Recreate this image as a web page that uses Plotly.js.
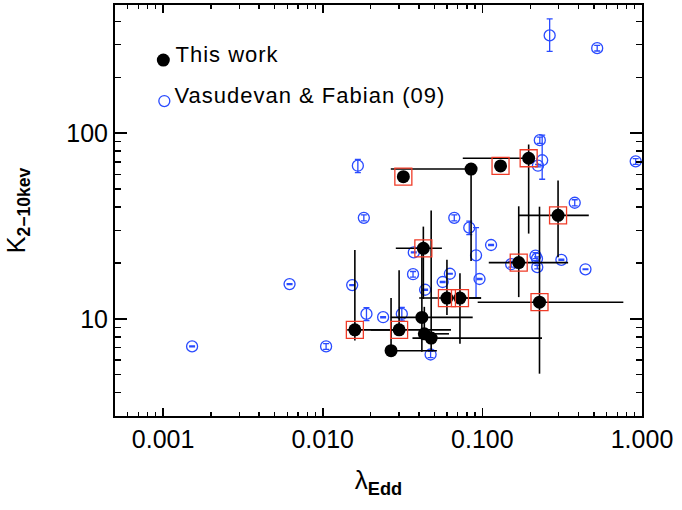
<!DOCTYPE html>
<html>
<head>
<meta charset="utf-8">
<script src="https://cdn.plot.ly/plotly-3.0.1.min.js"></script>
<style>
  html, body { margin: 0; padding: 0; background: #fff; }
  #chart { width: 682px; height: 510px; }
  /* slightly airy lettering for the key text */
  #chart .annotation-text { letter-spacing: 1px; }
</style>
</head>
<body>
<div id="chart"></div>
<script>
// ---- This work: Eddington ratio vs 2-10 keV bolometric correction ----
const twLambda   = [0.032, 0.085, 0.130, 0.195, 0.298, 0.169, 0.228, 0.0427, 0.0159, 0.0301, 0.0268, 0.0418, 0.0433, 0.0478, 0.0600, 0.0724];
const twK        = [58.3,  64.1,  66.6,  73.3,  36.1,  20.1,  12.3,  24.0,   8.73,   8.73,   6.74,   10.19,  8.31,   7.88,   12.95,  12.95];
const twLamMinus = [0,     0.0583, 0,    0.1196, 0.1286, 0.0593, 0.1345, 0.0140, 0.00166, 0.0101, 0,     0.0151, 0.0020, 0.0113, 0.0198, 0.0050];
const twLamPlus  = [0,     0,     0,     0.005,  0.1662, 0.1755, 0.536,  0.0131, 0.0149, 0.0335, 0.0251, 0.0452, 0.0185, 0.1886, 0.0382, 0.0258];
const twKMinus   = [0,     43.6,  0,     44.5,   14.6,   7.0,    7.23,   11.2,   1.08,   0,      0,      3.53,   0.2,    1.12,   2.45,   5.6];
const twKPlus    = [0,     0,     0,     13.6,   19.6,   20.3,   27.9,   7.4,    14.8,   9.57,   6.21,   14.3,   3.3,    30.5,   7.85,   4.65];
// sources flagged with a red box
const boxed      = [true,  false, true,  true,   true,   true,   true,   true,   true,   true,   false,  false,  false,  false,  true,   true];

// ---- Vasudevan & Fabian (2009) ----
const vfLambda = [0.00152, 0.0062, 0.0105, 0.0153, 0.0188, 0.0239, 0.0313, 0.264, 0.524, 0.0166, 0.229, 0.237, 0.223, 0.913, 0.379,
                  0.0181, 0.0667, 0.0828, 0.0913, 0.0960, 0.1134, 0.0372, 0.0368, 0.0438, 0.0564, 0.0626, 0.0474, 0.1515,
                  0.2152, 0.2199, 0.2208, 0.3126, 0.4425];
const vfK      = [7.11, 15.4, 7.11, 15.2, 10.64, 10.21, 10.64, 336, 287, 66.8, 91.7, 71.5, 66.8, 70.5, 42.2,
                  35.0, 35.0, 31.0, 22.0, 16.4, 25.0, 22.8, 17.4, 14.35, 15.8, 17.5, 6.43, 19.7,
                  21.9, 21.1, 19.0, 20.8, 18.5];
const vfKPlus  = [0.05, 0.1, 0.25, 0.1, 0.85, 0.07, 0.9, 77, 10, 5.5, 3.5, 26, 1.0, 2.5, 1.6,
                  1.3, 1.3, 2.6, 9.0, 0.1, 0.15, 0.15, 0.6, 0.1, 0.1, 0.1, 0.25, 0.7,
                  0.8, 0.5, 0.4, 0.15, 0.1];
const vfKMinus = [0.05, 0.1, 0.25, 0.1, 0.85, 0.07, 0.9, 60, 10, 5.5, 3.5, 15, 1.0, 2.5, 1.6,
                  1.3, 1.3, 2.6, 9.0, 0.1, 0.15, 0.15, 0.6, 0.1, 0.1, 0.1, 0.25, 0.7,
                  0.8, 0.5, 0.4, 0.15, 0.1];

// axis tick labels
const xTickVals  = [0.001, 0.01, 0.1, 1];
const xTickText  = ['0.001', '0.010', '0.100', '1.000'];
const yTickVals  = [10, 100];
const yTickText  = ['10', '100'];

const BLUE = '#2a4bff';
const RED  = '#f03c28';
const FONT = '"Liberation Sans", Arial, Helvetica, sans-serif';

// minor ticks at 2..9 of every decade in view
function minorTicks(lo, hi) {
  const out = [];
  for (let e = lo; e < hi; e++) {
    for (let m = 2; m <= 9; m++) out.push(m * Math.pow(10, e));
  }
  return out;
}

const boxLam = twLambda.filter((_, i) => boxed[i]);
const boxK   = twK.filter((_, i) => boxed[i]);

const traces = [
  {
    x: vfLambda, y: vfK, type: 'scatter', mode: 'markers',
    marker: { symbol: 'circle-open', size: 11, color: BLUE, line: { width: 1.3, color: BLUE } },
    error_y: { type: 'data', symmetric: false, array: vfKPlus, arrayminus: vfKMinus,
               color: BLUE, thickness: 1.3, width: 3 },
    hoverinfo: 'skip'
  },
  {
    x: twLambda, y: twK, type: 'scatter', mode: 'markers',
    marker: { symbol: 'circle', size: 13, color: '#000' },
    error_x: { type: 'data', symmetric: false, array: twLamPlus, arrayminus: twLamMinus,
               color: '#000', thickness: 1.6, width: 0 },
    error_y: { type: 'data', symmetric: false, array: twKPlus, arrayminus: twKMinus,
               color: '#000', thickness: 1.6, width: 0 },
    hoverinfo: 'skip'
  },
  {
    x: boxLam, y: boxK, type: 'scatter', mode: 'markers',
    marker: { symbol: 'square-open', size: 17, color: RED, line: { width: 1.3, color: RED } },
    hoverinfo: 'skip'
  }
];

const axisCommon = {
  type: 'log', showgrid: false, zeroline: false,
  showline: true, linecolor: '#000', linewidth: 2, mirror: 'ticks',
  ticks: 'inside', tickcolor: '#000', tickwidth: 1.6,
  tickmode: 'array',
  tickfont: { family: FONT, size: 25, color: '#000' }
};

const layout = {
  width: 682, height: 510,
  margin: { l: 115, r: 40, t: 5, b: 94 },
  paper_bgcolor: '#fff', plot_bgcolor: '#fff',
  showlegend: false,
  font: { family: FONT, color: '#000' },
  xaxis: Object.assign({}, axisCommon, {
    range: [Math.log10(0.0005), 0],
    tickvals: xTickVals, ticktext: xTickText, ticklen: 8,
    minor: { tickmode: 'array', tickvals: minorTicks(-4, 0).filter(v => v > 0.0005),
             ticks: 'inside', ticklen: 4, tickcolor: '#000', tickwidth: 1.4, showgrid: false },
    title: { text: 'λ<sub><b>Edd</b></sub>', font: { family: FONT, size: 26, color: '#000' }, standoff: 19 }
  }),
  yaxis: Object.assign({}, axisCommon, {
    range: [Math.log10(3), Math.log10(490)],
    tickvals: yTickVals, ticktext: yTickText, ticklen: 12,
    minor: { tickmode: 'array', tickvals: minorTicks(0, 3).filter(v => v > 3 && v < 490),
             ticks: 'inside', ticklen: 6, tickcolor: '#000', tickwidth: 1.4, showgrid: false },
    title: { text: 'K<sub><b>2−10kev</b></sub>', font: { family: FONT, size: 25, color: '#000' }, standoff: 34 }
  }),
  shapes: [
    // key symbols
    { type: 'circle', xref: 'paper', yref: 'paper', xsizemode: 'pixel', ysizemode: 'pixel',
      xanchor: 0.0917, yanchor: 0.8661, x0: -6.5, x1: 6.5, y0: -6.5, y1: 6.5,
      fillcolor: '#000', line: { color: '#000', width: 0 } },
    { type: 'circle', xref: 'paper', yref: 'paper', xsizemode: 'pixel', ysizemode: 'pixel',
      xanchor: 0.0936, yanchor: 0.7663, x0: -5.5, x1: 5.5, y0: -5.5, y1: 5.5,
      fillcolor: 'rgba(0,0,0,0)', line: { color: BLUE, width: 1.3 } }
  ],
  annotations: [
    { xref: 'paper', yref: 'paper', x: 0.1186, y: 0.879, xanchor: 'left', yanchor: 'middle',
      text: 'This work', showarrow: false, font: { family: FONT, size: 22, color: '#000' } },
    { xref: 'paper', yref: 'paper', x: 0.1310, y: 0.779, xanchor: 'left', yanchor: 'middle',
      text: 'Vasudevan &amp; Fabian (09)', showarrow: false, font: { family: FONT, size: 22, color: '#000' } }
  ]
};

Plotly.newPlot('chart', traces, layout, { staticPlot: true, displayModeBar: false });
</script>
</body>
</html>
